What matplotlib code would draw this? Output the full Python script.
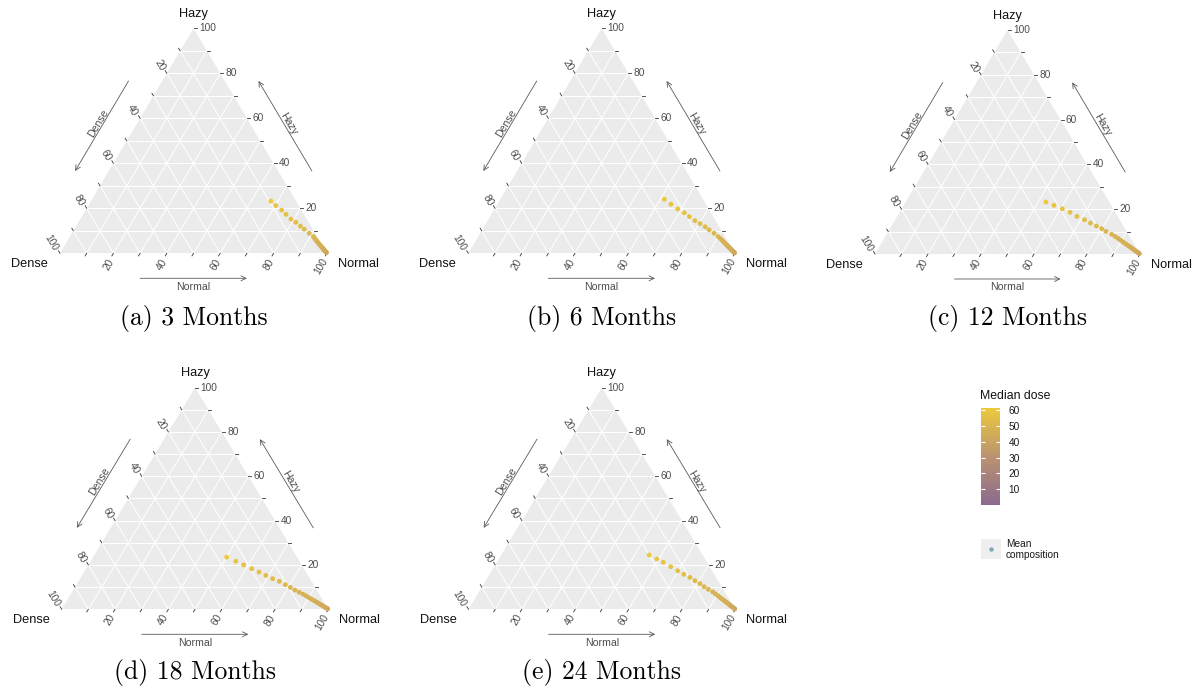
import numpy as np
import matplotlib
matplotlib.use("Agg")
import matplotlib.pyplot as plt
from matplotlib.colors import LinearSegmentedColormap, Normalize
from matplotlib.cm import ScalarMappable
from matplotlib.patches import Polygon, Rectangle
from matplotlib.lines import Line2D

# ---------------------------------------------------------------- data
panel_tags = ["(a)", "(b)", "(c)", "(d)", "(e)"]
months = ["3 Months", "6 Months", "12 Months", "18 Months", "24 Months"]

# median dose of each composition point (same dose levels in every panel)
median_dose = [61.5, 59, 58, 57, 56, 55, 54, 53, 52, 51, 50, 49, 48.5, 48,
               47.5, 47, 46.5, 46, 45.5, 45, 44.5, 44, 43.5, 43, 42.5, 42]

# composition in percent (Normal = 100 - Hazy - Dense)
hazy_3m = [23.2, 21.2, 19.2, 17.3, 15.2, 13.8, 12.1, 10.7, 8.9, 7.4, 6.6, 5.9, 5.3,
           4.7, 4.2, 3.7, 3.2, 2.8, 2.4, 2.0, 1.7, 1.4, 1.1, 0.8, 0.5, 0.3]
dense_3m = [9.4, 8.6, 7.4, 6.7, 5.9, 4.8, 3.9, 3.2, 2.2, 1.4, 1.3, 1.2, 1.1,
            1.0, 0.9, 0.8, 0.7, 0.6, 0.5, 0.4, 0.35, 0.3, 0.25, 0.2, 0.1, 0.05]

hazy_6m = [24.0, 21.8, 19.7, 18.0, 16.3, 14.5, 13.2, 11.8, 10.4, 8.9, 7.4, 6.5, 5.7,
           5.0, 4.4, 3.8, 3.3, 2.8, 2.4, 2.0, 1.6, 1.3, 1.0, 0.7, 0.4, 0.2]
dense_6m = [14.5, 13.1, 11.6, 10.0, 9.0, 7.8, 6.5, 5.3, 4.5, 3.4, 2.6, 2.2, 1.9,
            1.7, 1.5, 1.3, 1.1, 0.95, 0.8, 0.7, 0.55, 0.45, 0.35, 0.25, 0.15, 0.07]

hazy_12m = [23.2, 21.7, 20.2, 18.6, 16.8, 15.3, 13.8, 12.5, 11.3, 10.1, 8.8, 7.8, 6.9,
            6.1, 5.3, 4.6, 4.0, 3.4, 2.9, 2.4, 2.0, 1.6, 1.2, 0.8, 0.5, 0.2]
dense_12m = [23.9, 21.6, 19.2, 17.1, 15.4, 13.3, 11.8, 10.2, 8.8, 7.8, 6.3, 5.5, 4.8,
             4.2, 3.7, 3.2, 2.8, 2.4, 2.0, 1.7, 1.4, 1.1, 0.85, 0.6, 0.35, 0.15]

hazy_18m = [23.5, 21.7, 20.0, 18.3, 16.8, 15.3, 13.8, 12.6, 11.1, 9.9, 8.7, 7.7, 6.8,
            6.0, 5.2, 4.5, 3.9, 3.3, 2.8, 2.3, 1.9, 1.5, 1.1, 0.8, 0.5, 0.2]
dense_18m = [26.4, 23.9, 21.8, 19.6, 17.6, 15.8, 14.0, 12.1, 10.6, 9.3, 8.2, 7.1, 6.1,
             5.3, 4.6, 4.0, 3.4, 2.9, 2.4, 2.0, 1.6, 1.3, 0.95, 0.7, 0.4, 0.17]

hazy_24m = [24.5, 22.7, 21.2, 19.2, 17.4, 15.8, 14.4, 12.9, 11.6, 10.2, 9.0, 7.9, 7.0,
            6.2, 5.4, 4.7, 4.1, 3.5, 3.0, 2.5, 2.0, 1.6, 1.2, 0.8, 0.5, 0.2]
dense_24m = [20.0, 18.1, 16.4, 14.6, 12.9, 11.4, 9.8, 8.7, 7.5, 6.6, 5.6, 4.5, 4.0,
             3.5, 3.1, 2.7, 2.3, 2.0, 1.7, 1.4, 1.15, 0.9, 0.7, 0.45, 0.28, 0.11]

hazy_series = [hazy_3m, hazy_6m, hazy_12m, hazy_18m, hazy_24m]
dense_series = [dense_3m, dense_6m, dense_12m, dense_18m, dense_24m]

axis_labels = [20, 40, 60, 80, 100]
axis_ticks = [10, 20, 30, 40, 50, 60, 70, 80, 90, 100]
dose_ticks = [10, 20, 30, 40, 50, 60]
dose_limits = (0, 61.5)

# ---------------------------------------------------------------- layout (pixels)
W, H = 1198, 691
# triangle left x, width, base y, height (image pixels, y down)
frames = [(60.0, 267.0, 253.3, 225.0),
          (468.3, 266.7, 253.3, 225.0),
          (875.0, 265.0, 254.0, 224.0),
          (61.7, 266.7, 609.3, 221.7),
          (468.5, 266.8, 609.3, 221.7)]
caption_y = [318, 318, 318, 673, 673]

BG = "#EBEBEB"
TICK_TXT = "#4D4D4D"
ARROW_C = "#5A5A5A"
SANS = ["Liberation Sans", "DejaVu Sans"]

cmap = LinearSegmentedColormap.from_list(
    "dose", [(0.0, "#8B6A8F"), (0.5, "#BB9371"), (1.0, "#ECC93D")])
norm = Normalize(*dose_limits)

plt.rcParams["font.family"] = SANS
fig = plt.figure(figsize=(W / 100, H / 100), dpi=100)


def draw_panel(idx):
    x0, w, base, h = frames[idx]
    ax = fig.add_axes([x0 / W, 1 - base / H, w / W, h / H])
    ax.set_xlim(0, 1)
    ax.set_ylim(0, 1)
    ax.axis("off")

    def d(px, py):
        """pixel offset (y up) -> data offset"""
        return px / w, py / h

    # background triangle
    ax.add_patch(Polygon([(0, 0), (1, 0), (0.5, 1)], closed=True,
                         facecolor=BG, edgecolor="none", zorder=0))
    # grid lines every 10 %
    for k in np.arange(1, 10) / 10:
        ax.plot([k / 2, 1 - k / 2], [k, k], color="white", lw=0.75, zorder=1)
        ax.plot([k, k + (1 - k) / 2], [0, 1 - k], color="white", lw=0.75, zorder=1)
        ax.plot([1 - k, (1 - k) / 2], [0, 1 - k], color="white", lw=0.75, zorder=1)

    # axis directions in pixel space
    L = np.hypot(w / 2, h)
    up_left = np.array([-w / 2, h]) / L
    down_left = np.array([-w / 2, -h]) / L
    ang = np.degrees(np.arctan2(h, w / 2))
    tl = 3.0

    for v in axis_ticks:
        f = v / 100
        # Hazy axis (right edge)
        px, py = 1 - f / 2, f
        ax.plot([px, px + d(tl, 0)[0]], [py, py], color="#333333", lw=0.6,
                clip_on=False, zorder=2)
        # Dense axis (left edge)
        lx, ly = (1 - f) / 2, 1 - f
        ddx, ddy = d(*(up_left * tl))
        ax.plot([lx, lx + ddx], [ly, ly + ddy], color="#333333", lw=0.6,
                clip_on=False, zorder=2)
        # Normal axis (bottom edge)
        bx, by = f, 0
        ddx, ddy = d(*(down_left * tl))
        ax.plot([bx, bx + ddx], [by, by + ddy], color="#333333", lw=0.6,
                clip_on=False, zorder=2)

    for v in axis_labels:
        f = v / 100
        ax.annotate(str(v), (1 - f / 2, f), xytext=(5.5, 0),
                    textcoords="offset pixels", ha="left", va="center",
                    fontsize=7.3, color=TICK_TXT)
        ax.annotate(str(v), ((1 - f) / 2, 1 - f), xytext=(-4.5, 3),
                    textcoords="offset pixels", ha="right", va="center",
                    rotation=-ang, rotation_mode="anchor",
                    fontsize=7.3, color=TICK_TXT)
        ax.annotate(str(v), (f, 0), xytext=(-2, -6),
                    textcoords="offset pixels", ha="right", va="center",
                    rotation=ang, rotation_mode="anchor",
                    fontsize=7.3, color=TICK_TXT)

    # corner labels
    ax.annotate("Hazy", (0.5, 1), xytext=(0, 14.5), textcoords="offset pixels",
                ha="center", va="center", fontsize=9.2, color="#111111")
    ax.annotate("Dense", (0, 0), xytext=(-12, -11), textcoords="offset pixels",
                ha="right", va="center", fontsize=9.2, color="#111111")
    ax.annotate("Normal", (1, 0), xytext=(11, -11), textcoords="offset pixels",
                ha="left", va="center", fontsize=9.2, color="#111111")

    # axis arrows (pixel space, y up)
    corners = {"D": np.array([0.0, 0.0]), "N": np.array([w, 0.0]),
               "H": np.array([w / 2, h])}
    edges = [("D", "N", np.array([0.0, -1.0]), 25.0, "Normal", 0.0, 8.4),
             ("N", "H", np.array([h, w / 2]) / L, 29.0, "Hazy", -ang, 4.2),
             ("H", "D", np.array([-h, w / 2]) / L, 29.0, "Dense", ang, 4.5)]
    for p, q, nrm, off, name, rot, toff in edges:
        P, Q = corners[p], corners[q]
        s = P + 0.3 * (Q - P) + off * nrm
        e = P + 0.7 * (Q - P) + off * nrm
        ax.annotate("", xy=(e[0] / w, e[1] / h), xytext=(s[0] / w, s[1] / h),
                    arrowprops=dict(arrowstyle="->", color=ARROW_C, lw=0.6,
                                    shrinkA=0, shrinkB=0, mutation_scale=9),
                    annotation_clip=False)
        m = (s + e) / 2 + toff * nrm
        ax.text(m[0] / w, m[1] / h, name, rotation=rot, ha="center",
                va="center", rotation_mode="anchor", fontsize=7.6,
                color=TICK_TXT)

    # composition points
    hz = np.array(hazy_series[idx]) / 100
    dn = np.array(dense_series[idx]) / 100
    nm = 1 - hz - dn
    dose = np.array(median_dose)
    order = np.argsort(dose)
    ax.scatter((nm + hz / 2)[order], hz[order], c=dose[order], cmap=cmap,
               norm=norm, s=12, edgecolors="none", zorder=3, clip_on=False)

    # caption
    fig.text((x0 + w / 2) / W, 1 - caption_y[idx] / H,
             f"{panel_tags[idx]} {months[idx]}", ha="center", va="center",
             fontsize=18.5, family=["cmr10", "DejaVu Serif"])


for i in range(5):
    draw_panel(i)

# ---------------------------------------------------------------- legend
fig.text(980 / W, 1 - 396 / H, "Median dose", ha="left", va="center",
         fontsize=8.8, color="#111111")
cax = fig.add_axes([981 / W, 1 - 505 / H, 19 / W, 97 / H])
sm = ScalarMappable(norm=norm, cmap=cmap)
cb = fig.colorbar(sm, cax=cax, ticks=dose_ticks)
cb.outline.set_visible(False)
cax.tick_params(length=0, pad=6, labelsize=7.3, colors="#1A1A1A")
for t in dose_ticks:
    cax.hlines(t, 0, 0.2, colors="white", lw=0.8)
    cax.hlines(t, 0.8, 1, colors="white", lw=0.8)

fig.add_artist(Rectangle((981 / W, 1 - 559 / H), 20 / W, 20 / H,
                         transform=fig.transFigure, facecolor="#EFEFEF",
                         edgecolor="none"))
fig.add_artist(Line2D([991 / W], [1 - 549 / H], transform=fig.transFigure,
                      marker="o", markersize=3.2, color="#7DAAB4",
                      markeredgewidth=0))
fig.text(1006 / W, 1 - 549.5 / H, "Mean\ncomposition", ha="left", va="center",
         fontsize=7.3, color="#1A1A1A", linespacing=1.2)

fig.savefig("out.png", dpi=100)
